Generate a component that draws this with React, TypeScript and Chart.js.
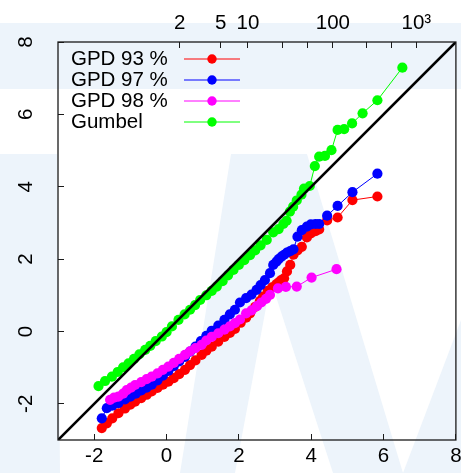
import React, { useEffect, useRef } from 'react';
import { Chart, registerables } from 'chart.js';

Chart.register(...registerables);

// ---------- data ----------
const seriesLabels = ['GPD 93 %', 'GPD 97 %', 'GPD 98 %', 'Gumbel'];
const seriesColors = ['#ff0000', '#0000ff', '#ff00ff', '#00ff00'];

const gpd93X = [-1.79, -1.65, -1.5, -1.33, -1.15, -1.0, -0.87, -0.7, -0.55, -0.41, -0.25, -0.1, 0.05, 0.2, 0.35, 0.51, 0.65, 0.8, 0.97, 1.1, 1.25, 1.43, 1.6, 1.75, 1.89, 2.05, 2.2, 2.31, 2.45, 2.58, 2.67, 2.8, 2.92, 3.03, 3.1, 3.17, 3.25, 3.33, 3.42, 3.51, 3.62, 3.74, 3.88, 3.99, 4.12, 4.22, 4.44, 4.73, 5.14, 5.83];
const gpd93Y = [-2.67, -2.54, -2.4, -2.26, -2.13, -2.02, -1.94, -1.84, -1.75, -1.66, -1.56, -1.47, -1.39, -1.29, -1.18, -1.06, -0.93, -0.8, -0.65, -0.53, -0.42, -0.28, -0.15, -0.04, 0.07, 0.24, 0.38, 0.5, 0.68, 0.84, 0.96, 1.12, 1.22, 1.3, 1.36, 1.42, 1.47, 1.66, 1.84, 2.12, 2.24, 2.34, 2.6, 2.71, 2.77, 2.82, 3.07, 3.15, 3.63, 3.73];

const gpd97X = [-1.79, -1.65, -1.5, -1.33, -1.15, -1.0, -0.85, -0.7, -0.55, -0.41, -0.25, -0.1, 0.05, 0.2, 0.35, 0.51, 0.65, 0.8, 0.95, 1.1, 1.25, 1.43, 1.6, 1.75, 1.89, 2.03, 2.2, 2.35, 2.49, 2.6, 2.72, 2.86, 2.95, 3.04, 3.1, 3.18, 3.25, 3.33, 3.42, 3.51, 3.62, 3.74, 3.88, 3.99, 4.12, 4.22, 4.44, 4.73, 5.14, 5.83];
const gpd97Y = [-2.4, -2.12, -2.05, -1.98, -1.88, -1.8, -1.72, -1.63, -1.55, -1.47, -1.35, -1.22, -1.09, -0.96, -0.83, -0.7, -0.56, -0.42, -0.27, -0.12, 0.02, 0.16, 0.32, 0.47, 0.6, 0.8, 0.92, 1.02, 1.15, 1.28, 1.42, 1.61, 1.84, 1.93, 2.0, 2.07, 2.12, 2.18, 2.22, 2.27, 2.62, 2.8, 2.9, 2.96, 2.97, 2.97, 3.2, 3.47, 3.85, 4.36];

const gpd98X = [-1.56, -1.45, -1.33, -1.2, -1.1, -0.98, -0.87, -0.7, -0.55, -0.41, -0.25, -0.1, 0.05, 0.2, 0.35, 0.51, 0.65, 0.8, 0.97, 1.1, 1.25, 1.43, 1.6, 1.75, 1.89, 2.03, 2.2, 2.35, 2.5, 2.62, 2.75, 2.86, 3.08, 3.3, 3.6, 4.01, 4.7];
const gpd98Y = [-1.89, -1.83, -1.8, -1.72, -1.62, -1.55, -1.48, -1.4, -1.32, -1.25, -1.16, -1.06, -0.97, -0.87, -0.76, -0.65, -0.55, -0.46, -0.37, -0.25, -0.15, -0.05, 0.05, 0.14, 0.23, 0.33, 0.5, 0.58, 0.7, 0.8, 0.9, 1.01, 1.19, 1.23, 1.24, 1.49, 1.72];

const gumbelX = [-1.88, -1.7, -1.51, -1.35, -1.2, -1.05, -0.9, -0.75, -0.59, -0.45, -0.3, -0.13, 0.0, 0.15, 0.33, 0.5, 0.65, 0.79, 0.93, 1.1, 1.25, 1.39, 1.55, 1.7, 1.85, 2.0, 2.15, 2.31, 2.45, 2.6, 2.77, 2.95, 3.1, 3.23, 3.32, 3.41, 3.5, 3.6, 3.73, 3.8, 3.96, 4.1, 4.22, 4.38, 4.56, 4.73, 4.91, 5.13, 5.42, 5.83, 6.52];
const gumbelY = [-1.51, -1.37, -1.25, -1.12, -0.99, -0.88, -0.76, -0.63, -0.51, -0.4, -0.27, -0.14, -0.02, 0.14, 0.32, 0.47, 0.6, 0.73, 0.87, 1.0, 1.12, 1.24, 1.39, 1.55, 1.7, 1.84, 1.97, 2.11, 2.24, 2.38, 2.53, 2.74, 2.83, 2.97, 3.06, 3.31, 3.45, 3.62, 3.78, 3.95, 4.02, 4.57, 4.83, 4.85, 5.01, 5.57, 5.59, 5.75, 6.03, 6.39, 7.29];

const axisMin = -3;
const axisMax = 8;
const axisTicks = [-2, 0, 2, 4, 6, 8];
const axisTickLabels = ['-2', '0', '2', '4', '6', '8'];
// return periods on the top axis (Gumbel reduced variate positions)
const returnPeriodTicks = [0.367, 1.5, 2.25, 3.199, 3.902, 4.6, 5.519, 6.214, 6.907];
const returnPeriodLabels = ['2', '5', '10', '', '', '100', '', '', '10³'];

// ---------- styling ----------
const FONT = '"Liberation Sans", Arial, Helvetica, sans-serif';
const FONT_SIZE = 20.5;
const WATERMARK = 'rgb(237,244,251)';
const POINT_RADIUS = 5.1;

const toPoints = (xs: number[], ys: number[]) => xs.map((x, i) => ({ x, y: ys[i] }));

const watermarkPlugin = {
  id: 'watermark',
  beforeDraw(chart: any) {
    const { ctx, width, height } = chart;
    ctx.save();
    ctx.fillStyle = '#ffffff';
    ctx.fillRect(0, 0, width, height);
    ctx.fillStyle = WATERMARK;
    ctx.fillRect(0, 23, width, 66);
    const polys = [
      [[0, 154], [57, 154], [60, 473], [0, 473]],
      [[231, 154], [307, 154], [403, 473], [333, 473], [271, 281], [235, 473], [180, 473]],
      [[403, 473], [461, 320], [461, 473]],
    ];
    polys.forEach((p) => {
      ctx.beginPath();
      ctx.moveTo(p[0][0], p[0][1]);
      for (let i = 1; i < p.length; i++) ctx.lineTo(p[i][0], p[i][1]);
      ctx.closePath();
      ctx.fill();
    });
    ctx.restore();
  },
};

const frameLegendPlugin = {
  id: 'frameLegend',
  afterDraw(chart: any) {
    const { ctx, chartArea } = chart;
    ctx.save();
    ctx.strokeStyle = '#1a1a1a';
    ctx.lineWidth = 1.3;
    ctx.strokeRect(chartArea.left, chartArea.top, chartArea.right - chartArea.left, chartArea.bottom - chartArea.top);

    ctx.font = `${FONT_SIZE}px ${FONT}`;
    ctx.textBaseline = 'middle';
    ctx.textAlign = 'left';
    const x0 = chartArea.left + 13;
    const y0 = chartArea.top + 17;
    seriesLabels.forEach((label, i) => {
      const y = y0 + i * 21;
      ctx.fillStyle = '#000';
      ctx.fillText(label, x0, y);
      ctx.strokeStyle = seriesColors[i];
      ctx.lineWidth = 1;
      ctx.beginPath();
      ctx.moveTo(chartArea.left + 126, y);
      ctx.lineTo(chartArea.left + 182, y);
      ctx.stroke();
      ctx.fillStyle = seriesColors[i];
      ctx.beginPath();
      ctx.arc(chartArea.left + 154, y, 4.7, 0, Math.PI * 2);
      ctx.fill();
    });
    ctx.restore();
  },
};

const tickFont = { family: FONT, size: FONT_SIZE };
const gridOpts = {
  display: true,
  drawOnChartArea: false,
  drawTicks: true,
  tickLength: -6,
  color: '#1a1a1a',
  lineWidth: 1,
};

export default function App() {
  const canvasRef = useRef<HTMLCanvasElement | null>(null);

  useEffect(() => {
    document.body.style.margin = '0';
    const canvas = canvasRef.current;
    if (!canvas) return;

    const seriesData = [
      toPoints(gpd93X, gpd93Y),
      toPoints(gpd97X, gpd97Y),
      toPoints(gpd98X, gpd98Y),
      toPoints(gumbelX, gumbelY),
    ];
    const orders = [4, 3, 2, 1];

    const datasets: any[] = seriesData.map((d, i) => ({
      label: seriesLabels[i],
      data: d,
      showLine: true,
      borderColor: seriesColors[i],
      backgroundColor: seriesColors[i],
      borderWidth: 1,
      pointRadius: POINT_RADIUS,
      pointBorderWidth: 0,
      pointBackgroundColor: seriesColors[i],
      order: orders[i],
    }));
    datasets.push({
      label: 'y = x',
      data: [
        { x: axisMin, y: axisMin },
        { x: axisMax, y: axisMax },
      ],
      showLine: true,
      borderColor: '#000',
      borderWidth: 2.6,
      pointRadius: 0,
      order: 0,
    });

    const chart = new Chart(canvas, {
      type: 'scatter',
      data: { datasets },
      options: {
        responsive: false,
        animation: false,
        devicePixelRatio: 1,
        layout: { padding: { left: 0, right: 5, top: 0, bottom: 0 } },
        plugins: { legend: { display: false }, tooltip: { enabled: false } },
        scales: {
          x: {
            type: 'linear',
            position: 'bottom',
            min: axisMin,
            max: axisMax,
            afterBuildTicks: (s: any) => {
              s.ticks = axisTicks.map((v) => ({ value: v }));
            },
            afterFit: (s: any) => {
              s.height = 33;
              s.paddingLeft = 0;
              s.paddingRight = 0;
            },
            ticks: {
              autoSkip: false,
              maxRotation: 0,
              minRotation: 0,
              padding: 10,
              color: '#000',
              font: tickFont,
              callback: (_v: any, i: number) => axisTickLabels[i],
            },
            grid: gridOpts,
            border: { display: false },
          },
          x2: {
            type: 'linear',
            axis: 'x',
            position: 'top',
            min: axisMin,
            max: axisMax,
            afterBuildTicks: (s: any) => {
              s.ticks = returnPeriodTicks.map((v) => ({ value: v }));
            },
            afterFit: (s: any) => {
              s.height = 42;
              s.paddingLeft = 0;
              s.paddingRight = 0;
            },
            ticks: {
              autoSkip: false,
              maxRotation: 0,
              minRotation: 0,
              padding: 12,
              color: '#000',
              font: tickFont,
              callback: (_v: any, i: number) => returnPeriodLabels[i],
            },
            grid: gridOpts,
            border: { display: false },
          },
          y: {
            type: 'linear',
            position: 'left',
            min: axisMin,
            max: axisMax,
            afterBuildTicks: (s: any) => {
              s.ticks = axisTicks.map((v) => ({ value: v }));
            },
            afterFit: (s: any) => {
              s.width = 58;
              s.paddingTop = 0;
              s.paddingBottom = 0;
            },
            ticks: {
              autoSkip: false,
              minRotation: 90,
              maxRotation: 90,
              crossAlign: 'center',
              padding: 29,
              color: '#000',
              font: tickFont,
              callback: (_v: any, i: number) => axisTickLabels[i],
            },
            grid: gridOpts,
            border: { display: false },
          },
        },
      } as any,
      plugins: [watermarkPlugin, frameLegendPlugin],
    });

    return () => {
      chart.destroy();
    };
  }, []);

  return (
    <div style={{ position: 'fixed', left: 0, top: 0, width: 461, height: 473 }}>
      <canvas ref={canvasRef} width={461} height={473} style={{ display: 'block', width: 461, height: 473 }} />
    </div>
  );
}
